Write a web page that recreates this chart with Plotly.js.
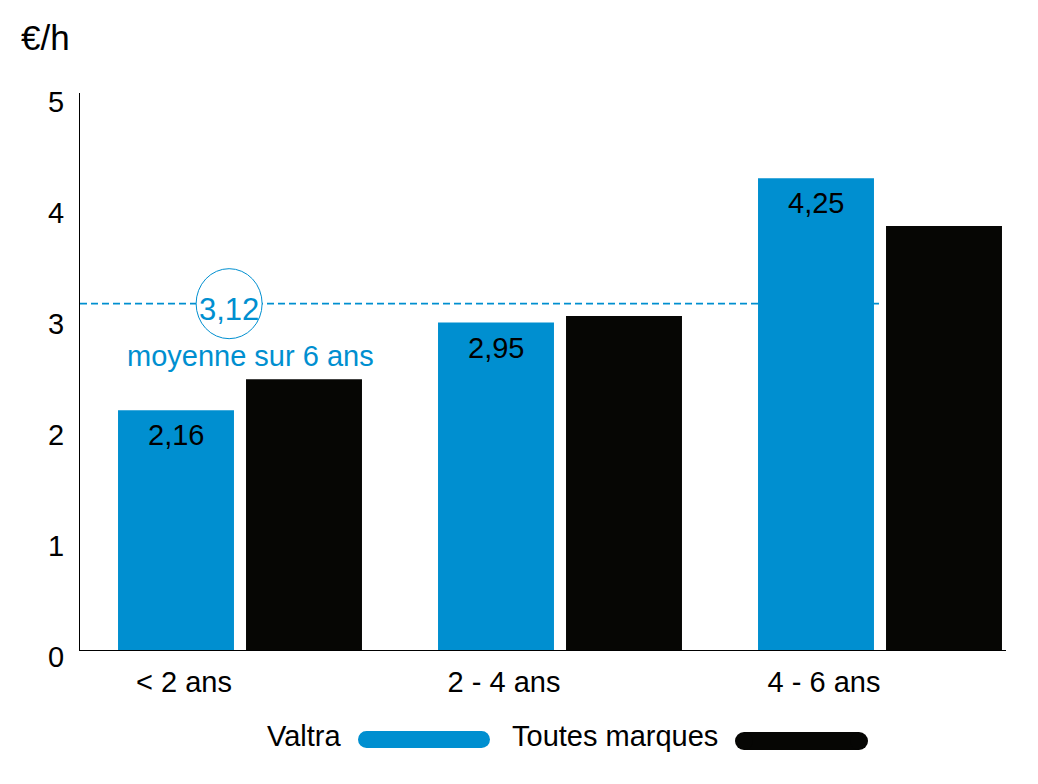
<!DOCTYPE html>
<html><head><meta charset="utf-8">
<script src="https://cdn.plot.ly/plotly-3.0.1.min.js"></script>
<style>html,body{margin:0;padding:0;background:#fff;} #chart{width:1038px;height:784px;}</style>
</head><body><div id="chart"></div>
<script>
const categories = ['< 2 ans', '2 - 4 ans', '4 - 6 ans'];
const seriesNames = ['Valtra', 'Toutes marques'];
const valtraValues = [2.16, 2.95, 4.25];
const toutesValues = [2.44, 3.01, 3.82];
const averageValue = 3.12;
const averageLabel = 'moyenne sur 6 ans';
const yTickValues = [0, 1, 2, 3, 4, 5];
const unitLabel = '€/h';
const seriesColors = ['#008fd0', '#060604'];

const FONT = '"Liberation Sans Narrow", "Arial Narrow", "Liberation Sans", Arial, sans-serif';
const FS = 29;
const L = 80, R = 32, T = 93, B = 134, W = 1038, H = 784;
const PW = W - L - R, PH = H - T - B;
const px = x => (x - L) / PW;
const py = y => (H - B - y) / PH;
const fr = v => v.toFixed(2).replace('.', ',');

const traces = [
  {type: 'bar', x: categories, y: valtraValues, name: seriesNames[0],
   marker: {color: seriesColors[0]}, showlegend: false, hoverinfo: 'skip'},
  {type: 'bar', x: categories, y: toutesValues, name: seriesNames[1],
   marker: {color: seriesColors[1]}, showlegend: false, hoverinfo: 'skip'}
];

const annotations = [];
valtraValues.forEach((v, i) => {
  annotations.push({x: categories[i], y: v, xref: 'x', yref: 'y', xshift: -64, yshift: -7,
    yanchor: 'top', xanchor: 'center', showarrow: false, text: fr(v),
    font: {family: FONT, size: FS, color: '#000'}});
});
annotations.push({x: -0.034, y: averageValue, xref: 'x', yref: 'y', showarrow: false,
  text: fr(averageValue), yshift: -6, font: {family: FONT, size: FS + 2, color: seriesColors[0]}});
annotations.push({x: 0.034, y: averageValue, xref: 'x', yref: 'y', showarrow: false, yshift: -52,
  text: averageLabel, font: {family: FONT, size: FS, color: seriesColors[0]}});
annotations.push({x: px(19), y: py(38), xref: 'paper', yref: 'paper', xanchor: 'left', yanchor: 'middle',
  showarrow: false, text: unitLabel, font: {family: FONT, size: 35, color: '#000'}});

const legendTextRight = [343, 720];
const legendPill = [[358, 490, 731, 748], [735, 868, 732, 750]];
const shapes = [
  {type: 'line', xref: 'x', yref: 'y', x0: -0.5, x1: 2.006, y0: averageValue, y1: averageValue,
   line: {color: seriesColors[0], width: 1.8, dash: '7px,4px'}, layer: 'below'},
  {type: 'circle', xref: 'x', yref: 'y', xsizemode: 'pixel', ysizemode: 'pixel',
   xanchor: -0.034, yanchor: averageValue, x0: -33, x1: 33, y0: -35, y1: 35,
   fillcolor: '#ffffff', line: {color: seriesColors[0], width: 1}, layer: 'below'}
];
seriesNames.forEach((n, i) => {
  annotations.push({x: px(legendTextRight[i]), y: py(736), xref: 'paper', yref: 'paper',
    xanchor: 'right', yanchor: 'middle', showarrow: false, text: n,
    font: {family: FONT, size: FS, color: '#000'}});
  const [x0, x1, y0, y1] = legendPill[i];
  const r = (y1 - y0) / 2;
  shapes.push({type: 'rect', xref: 'paper', yref: 'paper', x0: px(x0 + r), x1: px(x1 - r),
    y0: py(y1), y1: py(y0), fillcolor: seriesColors[i], line: {width: 0}});
  shapes.push({type: 'circle', xref: 'paper', yref: 'paper', x0: px(x0), x1: px(x0 + 2 * r),
    y0: py(y1), y1: py(y0), fillcolor: seriesColors[i], line: {width: 0}});
  shapes.push({type: 'circle', xref: 'paper', yref: 'paper', x0: px(x1 - 2 * r), x1: px(x1),
    y0: py(y1), y1: py(y0), fillcolor: seriesColors[i], line: {width: 0}});
});

const layout = {
  width: W, height: H,
  margin: {l: L, r: R, t: T, b: B, pad: 0},
  paper_bgcolor: '#fff', plot_bgcolor: '#fff',
  font: {family: FONT, size: FS, color: '#000'},
  barmode: 'group', bargap: 0.2, bargroupgap: 0.094,
  showlegend: false,
  xaxis: {type: 'category', range: [-0.5, -0.5 + PW / 320], showline: true, linecolor: '#000', linewidth: 1,
    ticks: '', showgrid: false, zeroline: false, fixedrange: true,
    tickfont: {family: FONT, size: FS, color: '#000'}, ticklabelshift: -56, ticklabelstandoff: 6},
  yaxis: {range: [0, PH / 111], tickvals: yTickValues, ticktext: yTickValues.map(String),
    showline: true, linecolor: '#000', linewidth: 1, ticks: '', showgrid: false, zeroline: false,
    fixedrange: true, tickfont: {family: FONT, size: FS, color: '#000'},
    ticklabelstandoff: 9, ticklabelshift: 7},
  annotations: annotations,
  shapes: shapes
};
Plotly.newPlot('chart', traces, layout, {displayModeBar: false, staticPlot: true});
</script>
</body></html>
